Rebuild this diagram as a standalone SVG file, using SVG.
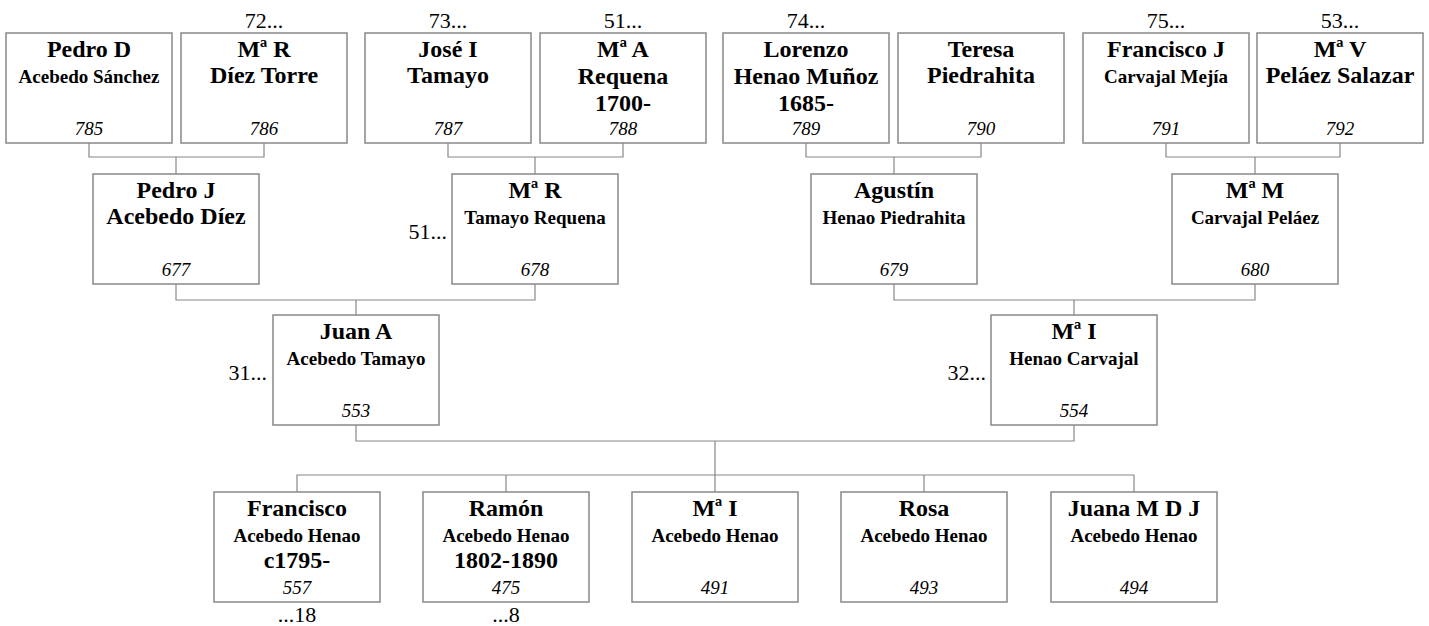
<svg xmlns="http://www.w3.org/2000/svg" width="1429" height="626" viewBox="0 0 1429 626" font-family="'Liberation Serif', 'Times New Roman', serif">
<style>
  .box{fill:#fff;stroke:#888;stroke-width:1.5}
  .conn{fill:none;stroke:#888;stroke-width:1.2}
  text{font-family:"Liberation Serif","Times New Roman",serif;fill:#000}
  .n{font-size:24px;font-weight:bold;text-anchor:middle}
  .s{font-size:19px;font-weight:bold;text-anchor:middle}
  .id{font-size:19px;font-style:italic;text-anchor:middle}
  .ref{font-size:22px}
  .mid{text-anchor:middle}
  .end{text-anchor:end}
</style>
<rect width="1429" height="626" fill="#fff"/>
<g id="connectors">
  <path class="conn" d="M89,143V157H264V143M176,157V174"/>
  <path class="conn" d="M448,143V157H623V143M535,157V174"/>
  <path class="conn" d="M806,143V157H981V143M894,157V174"/>
  <path class="conn" d="M1166,143V157H1340V143M1255,157V174"/>
  <path class="conn" d="M176,284V300H535V284M356,300V315"/>
  <path class="conn" d="M894,284V300H1255V284M1074,300V315"/>
  <path class="conn" d="M356,425V441H1074V425M715,441V492"/>
  <path class="conn" d="M297,492V475H1134V492M506,475V492M924,475V492"/>
</g>
<g id="p785"><rect class="box" x="6" y="33" width="166" height="110"/><text class="n" x="89" y="57">Pedro D</text><text class="s" x="89" y="83">Acebedo Sánchez</text><text class="id" x="89" y="135">785</text></g>
<g id="p786"><text class="ref mid" x="264" y="28">72...</text><rect class="box" x="181" y="33" width="166" height="110"/><text class="n" x="264" y="57">Mª R</text><text class="n" x="264" y="83">Díez Torre</text><text class="id" x="264" y="135">786</text></g>
<g id="p787"><text class="ref mid" x="448" y="28">73...</text><rect class="box" x="365" y="33" width="166" height="110"/><text class="n" x="448" y="57">José I</text><text class="n" x="448" y="83">Tamayo</text><text class="id" x="448" y="135">787</text></g>
<g id="p788"><text class="ref mid" x="623" y="28">51...</text><rect class="box" x="540" y="33" width="166" height="110"/><text class="n" x="623" y="57">Mª A</text><text class="n" x="623" y="84">Requena</text><text class="n" x="623" y="111">1700-</text><text class="id" x="623" y="135">788</text></g>
<g id="p789"><text class="ref mid" x="806" y="28">74...</text><rect class="box" x="723" y="33" width="166" height="110"/><text class="n" x="806" y="57">Lorenzo</text><text class="n" x="806" y="84">Henao Muñoz</text><text class="n" x="806" y="111">1685-</text><text class="id" x="806" y="135">789</text></g>
<g id="p790"><rect class="box" x="898" y="33" width="166" height="110"/><text class="n" x="981" y="57">Teresa</text><text class="n" x="981" y="83">Piedrahita</text><text class="id" x="981" y="135">790</text></g>
<g id="p791"><text class="ref mid" x="1166" y="28">75...</text><rect class="box" x="1083" y="33" width="166" height="110"/><text class="n" x="1166" y="57">Francisco J</text><text class="s" x="1166" y="83">Carvajal Mejía</text><text class="id" x="1166" y="135">791</text></g>
<g id="p792"><text class="ref mid" x="1340" y="28">53...</text><rect class="box" x="1257" y="33" width="166" height="110"/><text class="n" x="1340" y="57">Mª V</text><text class="n" x="1340" y="83">Peláez Salazar</text><text class="id" x="1340" y="135">792</text></g>
<g id="p677"><rect class="box" x="93" y="174" width="166" height="110"/><text class="n" x="176" y="198">Pedro J</text><text class="n" x="176" y="224">Acebedo Díez</text><text class="id" x="176" y="276">677</text></g>
<g id="p678"><text class="ref end" x="447" y="239">51...</text><rect class="box" x="452" y="174" width="166" height="110"/><text class="n" x="535" y="198">Mª R</text><text class="s" x="535" y="224">Tamayo Requena</text><text class="id" x="535" y="276">678</text></g>
<g id="p679"><rect class="box" x="811" y="174" width="166" height="110"/><text class="n" x="894" y="198">Agustín</text><text class="s" x="894" y="224">Henao Piedrahita</text><text class="id" x="894" y="276">679</text></g>
<g id="p680"><rect class="box" x="1172" y="174" width="166" height="110"/><text class="n" x="1255" y="198">Mª M</text><text class="s" x="1255" y="224">Carvajal Peláez</text><text class="id" x="1255" y="276">680</text></g>
<g id="p553"><text class="ref end" x="267" y="380">31...</text><rect class="box" x="273" y="315" width="166" height="110"/><text class="n" x="356" y="339">Juan A</text><text class="s" x="356" y="365">Acebedo Tamayo</text><text class="id" x="356" y="417">553</text></g>
<g id="p554"><text class="ref end" x="986" y="380">32...</text><rect class="box" x="991" y="315" width="166" height="110"/><text class="n" x="1074" y="339">Mª I</text><text class="s" x="1074" y="365">Henao Carvajal</text><text class="id" x="1074" y="417">554</text></g>
<g id="p557"><rect class="box" x="214" y="492" width="166" height="110"/><text class="n" x="297" y="516">Francisco</text><text class="s" x="297" y="542">Acebedo Henao</text><text class="n" x="297" y="568">c1795-</text><text class="id" x="297" y="594">557</text><text class="ref mid" x="297" y="622">...18</text></g>
<g id="p475"><rect class="box" x="423" y="492" width="166" height="110"/><text class="n" x="506" y="516">Ramón</text><text class="s" x="506" y="542">Acebedo Henao</text><text class="n" x="506" y="568">1802-1890</text><text class="id" x="506" y="594">475</text><text class="ref mid" x="506" y="622">...8</text></g>
<g id="p491"><rect class="box" x="632" y="492" width="166" height="110"/><text class="n" x="715" y="516">Mª I</text><text class="s" x="715" y="542">Acebedo Henao</text><text class="id" x="715" y="594">491</text></g>
<g id="p493"><rect class="box" x="841" y="492" width="166" height="110"/><text class="n" x="924" y="516">Rosa</text><text class="s" x="924" y="542">Acebedo Henao</text><text class="id" x="924" y="594">493</text></g>
<g id="p494"><rect class="box" x="1051" y="492" width="166" height="110"/><text class="n" x="1134" y="516">Juana M D J</text><text class="s" x="1134" y="542">Acebedo Henao</text><text class="id" x="1134" y="594">494</text></g>
</svg>
